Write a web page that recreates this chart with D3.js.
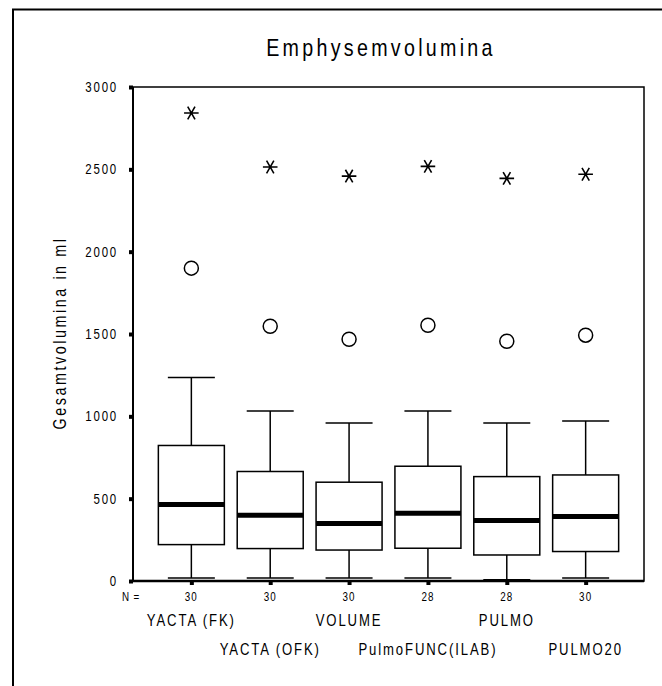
<!DOCTYPE html>
<html>
<head>
<meta charset="utf-8">
<script src="https://cdn.jsdelivr.net/npm/d3@7"></script>
<style>
  body { margin: 0; background: #fff; }
  text { font-family: "Liberation Sans", Arial, sans-serif; fill: #000; }
</style>
</head>
<body>
<div id="chart"></div>
<script>
// data
var categories = ["YACTA (FK)", "YACTA (OFK)", "VOLUME", "PulmoFUNC(ILAB)", "PULMO", "PULMO20"];
var counts = [30, 30, 30, 28, 28, 30];
var whiskerLow = [18, 18, 18, 18, 8, 18];
var q1 = [221, 197, 188, 199, 158, 179];
var medians = [464, 399, 349, 411, 367, 391];
var q3 = [823, 665, 600, 697, 634, 644];
var whiskerHigh = [1236, 1033, 960, 1033, 960, 972];
var outliers = [1900, 1547, 1468, 1553, 1456, 1493];
var extremes = [2842, 2514, 2459, 2518, 2445, 2470];
var yTicks = [0, 500, 1000, 1500, 2000, 2500, 3000];

var svgWidth = 662, svgHeight = 686;
var plot = { left: 133, right: 644, top: 87, bottom: 581 };
var sx = 0.82; // squeeze text horizontally, looks like Arial Narrow

var svg = d3.select("#chart").append("svg")
  .attr("width", svgWidth)
  .attr("height", svgHeight);

// outer frame (runs off the right/bottom edge)
svg.append("path")
  .attr("d", "M13,700 L13,9.5 L700,9.5")
  .attr("fill", "none")
  .attr("stroke", "#000")
  .attr("stroke-width", 2);

svg.append("text")
  .attr("transform", `translate(381,56) scale(${sx},1)`)
  .attr("text-anchor", "middle")
  .attr("font-size", "24px")
  .style("letter-spacing", "4px")
  .text("Emphysemvolumina");

var y = d3.scaleLinear().domain([0, 3000]).range([plot.bottom, plot.top]);
var x = d3.scalePoint().domain(categories).range([plot.left, plot.right]).padding(0.74);

// y axis with little square ticks
var yAxis = svg.append("g")
  .attr("transform", `translate(${plot.left},0)`)
  .call(d3.axisLeft(y).tickValues(yTicks).tickSize(4).tickPadding(11).tickFormat(d3.format("d")));
yAxis.select(".domain").remove();
yAxis.selectAll(".tick line").attr("stroke-width", 4);
yAxis.selectAll(".tick text")
  .attr("x", -15 / sx)
  .attr("transform", `scale(${sx},1)`)
  .attr("font-size", "14px")
  .style("font-family", "'Liberation Sans', Arial, sans-serif")
  .style("letter-spacing", "2.2px");

var xAxis = svg.append("g")
  .attr("transform", `translate(0,${plot.bottom})`)
  .call(d3.axisBottom(x).tickSize(4).tickFormat(""));
xAxis.select(".domain").remove();
xAxis.selectAll(".tick line").attr("stroke-width", 4);

// plot frame
svg.append("rect")
  .attr("x", plot.left)
  .attr("y", plot.top)
  .attr("width", plot.right - plot.left)
  .attr("height", plot.bottom - plot.top)
  .attr("fill", "none")
  .attr("stroke", "#000")
  .attr("stroke-width", 1.5);
svg.append("line")
  .attr("x1", plot.left).attr("x2", plot.right)
  .attr("y1", plot.bottom).attr("y2", plot.bottom)
  .attr("stroke", "#000").attr("stroke-width", 2.5);
svg.append("line")
  .attr("x1", plot.left).attr("x2", plot.left)
  .attr("y1", plot.top).attr("y2", plot.bottom)
  .attr("stroke", "#000").attr("stroke-width", 2);

// y title
svg.append("text")
  .attr("transform", `translate(66, 333) rotate(-90) scale(${sx},1)`)
  .attr("text-anchor", "middle")
  .attr("font-size", "17.5px")
  .style("letter-spacing", "3.1px")
  .text("Gesamtvolumina in ml");

var boxW = 66, capW = 47;
var boxes = categories.map((c, i) => ({
  cat: c, lo: whiskerLow[i], q1: q1[i], med: medians[i], q3: q3[i], hi: whiskerHigh[i],
  out: outliers[i], ext: extremes[i], n: counts[i]
}));

var g = svg.append("g").attr("stroke", "#000").attr("fill", "none");
var bx = g.selectAll("g.box").data(boxes).enter().append("g")
  .attr("transform", d => `translate(${x(d.cat)},0)`);

bx.append("line").attr("x1", 0).attr("x2", 0)
  .attr("y1", d => y(d.hi)).attr("y2", d => y(d.q3)).attr("stroke-width", 1.5);
bx.append("line").attr("x1", 0).attr("x2", 0)
  .attr("y1", d => y(d.q1)).attr("y2", d => y(d.lo)).attr("stroke-width", 1.5);
bx.append("line").attr("x1", -capW / 2).attr("x2", capW / 2)
  .attr("y1", d => y(d.hi)).attr("y2", d => y(d.hi)).attr("stroke-width", 1.5);
bx.append("line").attr("x1", -capW / 2).attr("x2", capW / 2)
  .attr("y1", d => y(d.lo)).attr("y2", d => y(d.lo)).attr("stroke-width", 1.5);
bx.append("rect")
  .attr("x", -boxW / 2).attr("width", boxW)
  .attr("y", d => y(d.q3)).attr("height", d => y(d.q1) - y(d.q3))
  .attr("fill", "#fff").attr("stroke-width", 1.5);
bx.append("line").attr("x1", -boxW / 2).attr("x2", boxW / 2)
  .attr("y1", d => y(d.med)).attr("y2", d => y(d.med)).attr("stroke-width", 5);

bx.append("circle").attr("cx", 0).attr("cy", d => y(d.out)).attr("r", 7)
  .attr("fill", "#fff").attr("stroke-width", 1.5);

var star = d3.symbol().type(d3.symbolAsterisk).size(150);
bx.append("path")
  .attr("d", star())
  .attr("transform", d => `translate(0,${y(d.ext)}) rotate(90)`)
  .attr("stroke-width", 1.6);

// N row
svg.append("text")
  .attr("transform", `translate(122,601) scale(${sx},1)`)
  .attr("font-size", "12px")
  .style("letter-spacing", "1px")
  .text("N =");
svg.selectAll("text.n").data(boxes).enter().append("text")
  .attr("class", "n")
  .attr("transform", d => `translate(${x(d.cat)},601) scale(${sx},1)`)
  .attr("text-anchor", "middle")
  .attr("font-size", "12px")
  .style("letter-spacing", "1.3px")
  .text(d => d.n);

// category labels, staggered on two rows
svg.selectAll("text.cat").data(categories).enter().append("text")
  .attr("class", "cat")
  .attr("transform", (d, i) => `translate(${x(d)},${i % 2 === 0 ? 626 : 655}) scale(${sx},1)`)
  .attr("text-anchor", "middle")
  .attr("font-size", "16px")
  .style("letter-spacing", "2.3px")
  .text(d => d);
</script>
</body>
</html>
